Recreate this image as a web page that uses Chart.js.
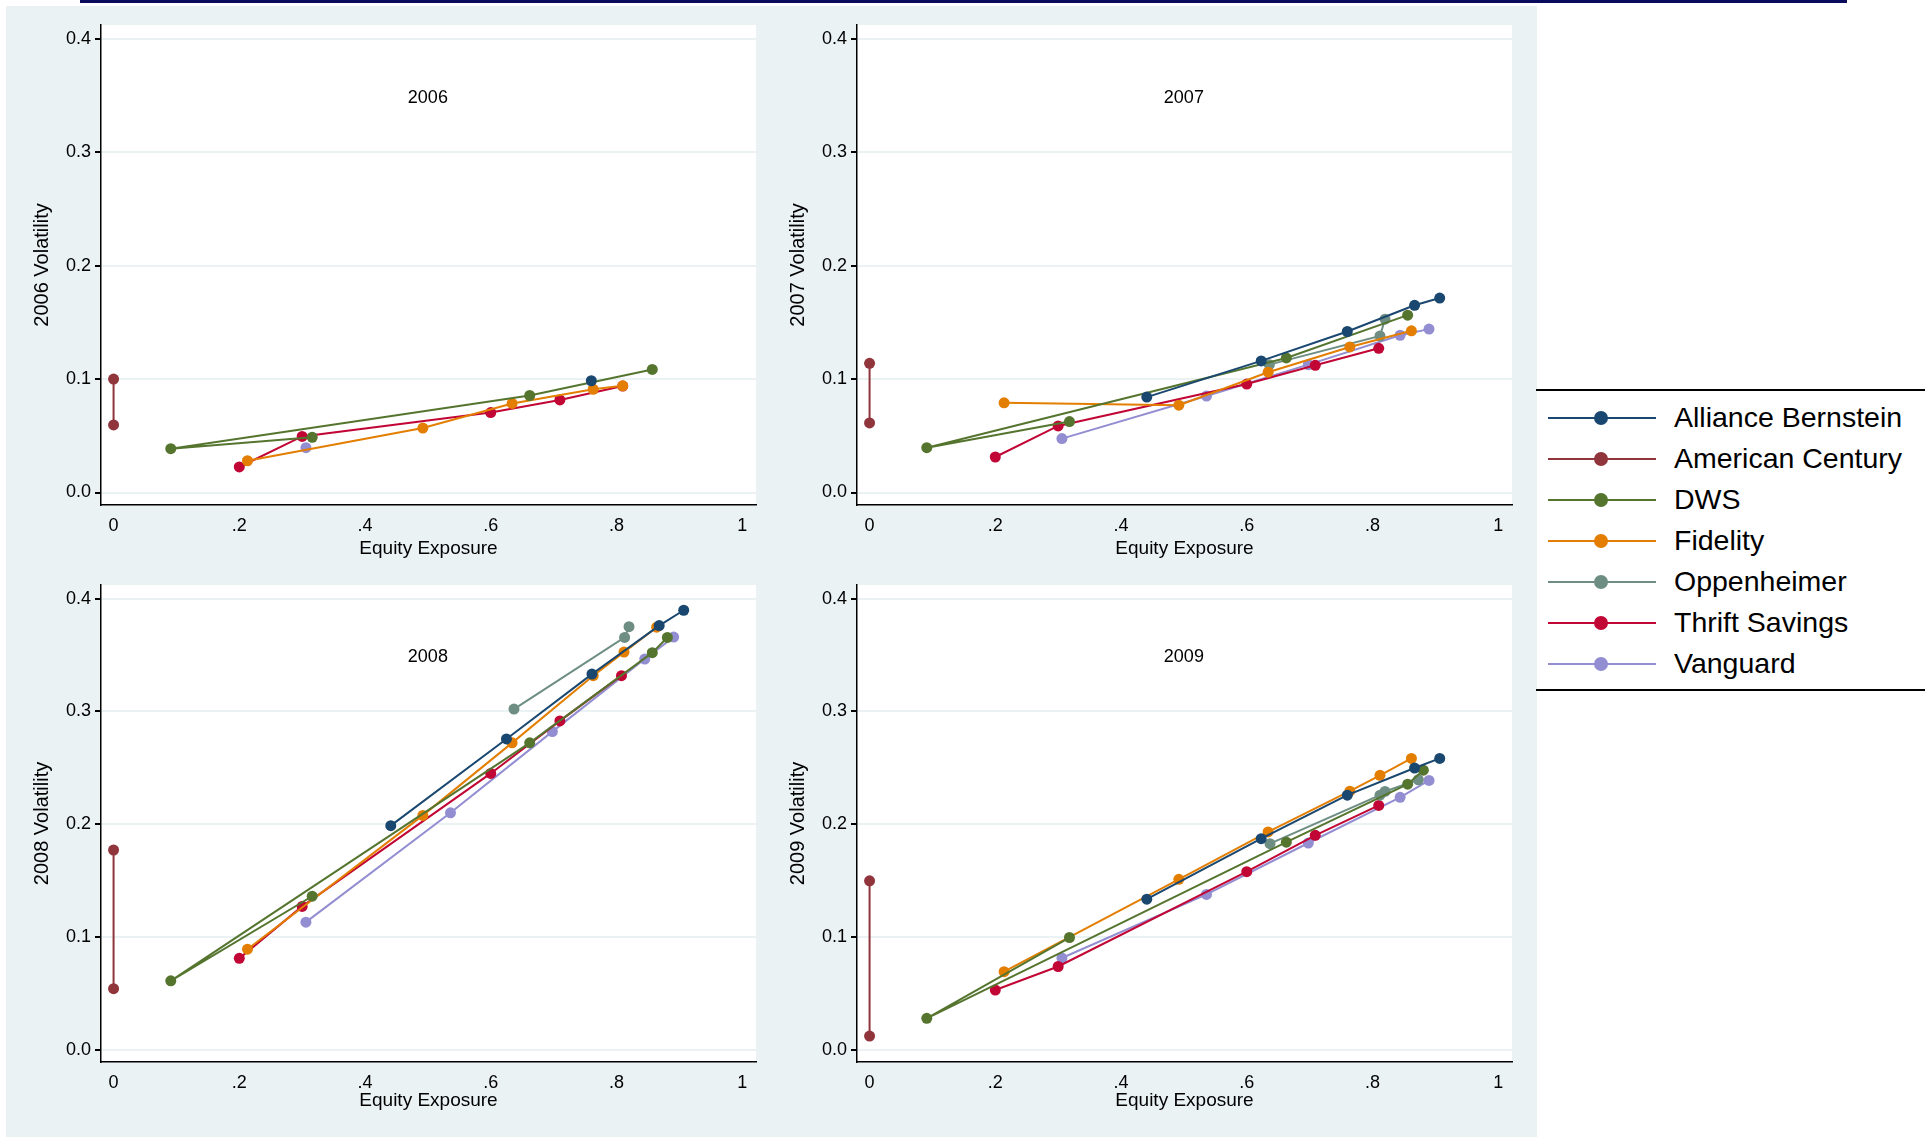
<!DOCTYPE html>
<html><head><meta charset="utf-8">
<script src="https://cdn.jsdelivr.net/npm/chart.js@4.4.0/dist/chart.umd.min.js"></script>
<style>
body{margin:0;width:1929px;height:1137px;background:#fff;position:relative;overflow:hidden;font-family:"Liberation Sans",Arial,sans-serif}
#bg{position:absolute;left:6px;top:6px;width:1531px;height:1131px;background:#eaf2f3}
#topline{position:absolute;left:80px;top:0;width:1767px;height:3px;background:#0b0b5e}
canvas{position:absolute}
#legend{position:absolute;left:1536px;top:389px;width:389px;height:298px;border-top:2px solid #000;border-bottom:2px solid #000}
.li{position:absolute;left:0;height:30px;width:389px}
.li .ln{position:absolute;left:12px;top:14px;width:108px;height:2px}
.li .dt{position:absolute;left:58px;top:8px;width:14px;height:14px;border-radius:50%}
.li .tx{position:absolute;left:138px;top:-1px;font-size:28.5px;line-height:30px;color:#000}
</style></head><body>
<div id="bg"></div><div id="topline"></div>
<canvas id="c2006"></canvas><canvas id="c2007"></canvas><canvas id="c2008"></canvas><canvas id="c2009"></canvas>
<div id="legend"></div>
<script>
const families = ["Alliance Bernstein","American Century","DWS","Fidelity","Oppenheimer","Thrift Savings","Vanguard"];
const colors = ["#1a476f","#90353b","#55752f","#e37e00","#6e8e84","#c10534","#938dd2"];
const years = ["2006","2007","2008","2009"];
const xTicks = [0,0.2,0.4,0.6,0.8,1];
const yTicks = [0,0.1,0.2,0.3,0.4];

const AB_2006 = [[0.76,0.0985]];
const AC_2006 = [[0,0.1],[0,0.0596]];
const DWS_2006 = [[0.316,0.0487],[0.091,0.0386],[0.662,0.0855],[0.857,0.1085]];
const FID_2006 = [[0.213,0.028],[0.492,0.0568],[0.634,0.0785],[0.763,0.091],[0.81,0.094]];
const OPP_2006 = [];
const TSP_2006 = [[0.2,0.0225],[0.3,0.0494],[0.6,0.0705],[0.71,0.0816],[0.81,0.0938]];
const VAN_2006 = [[0.306,0.0395]];

const AB_2007 = [[0.441,0.0841],[0.623,0.116],[0.76,0.1419],[0.867,0.165],[0.907,0.1714]];
const AC_2007 = [[0,0.1139],[0,0.0613]];
const DWS_2007 = [[0.318,0.0625],[0.091,0.0395],[0.663,0.1186],[0.856,0.1563]];
const FID_2007 = [[0.214,0.079],[0.492,0.077],[0.634,0.106],[0.764,0.1283],[0.862,0.1425]];
const OPP_2007 = [[0.636,0.1127],[0.812,0.138],[0.82,0.1528]];
const TSP_2007 = [[0.2,0.0313],[0.3,0.0587],[0.6,0.0956],[0.709,0.1121],[0.81,0.1271]];
const VAN_2007 = [[0.306,0.0475],[0.536,0.085],[0.698,0.1127],[0.844,0.1386],[0.89,0.144]];

const AB_2008 = [[0.441,0.1986],[0.625,0.2755],[0.761,0.333],[0.868,0.376],[0.907,0.3896]];
const AC_2008 = [[0,0.177],[0,0.054]];
const DWS_2008 = [[0.316,0.136],[0.091,0.061],[0.662,0.272],[0.857,0.352],[0.881,0.3655]];
const FID_2008 = [[0.213,0.089],[0.492,0.2077],[0.634,0.272],[0.763,0.3316],[0.812,0.3525],[0.864,0.3746]];
const OPP_2008 = [[0.637,0.302],[0.813,0.3655],[0.82,0.375]];
const TSP_2008 = [[0.2,0.0809],[0.3,0.127],[0.6,0.2449],[0.71,0.2915],[0.808,0.3316]];
const VAN_2008 = [[0.306,0.113],[0.536,0.21],[0.698,0.282],[0.845,0.3463],[0.891,0.3658]];

const AB_2009 = [[0.441,0.1334],[0.623,0.187],[0.76,0.2256],[0.867,0.2497],[0.907,0.2582]];
const AC_2009 = [[0,0.1497],[0,0.012]];
const DWS_2009 = [[0.318,0.0994],[0.091,0.0277],[0.663,0.1839],[0.856,0.2354],[0.881,0.2478]];
const FID_2009 = [[0.214,0.0691],[0.492,0.151],[0.634,0.193],[0.764,0.2292],[0.812,0.2432],[0.862,0.2582]];
const OPP_2009 = [[0.637,0.1826],[0.812,0.2256],[0.82,0.2289],[0.873,0.2393]];
const TSP_2009 = [[0.2,0.0528],[0.3,0.0737],[0.6,0.1578],[0.709,0.19],[0.81,0.2165]];
const VAN_2009 = [[0.306,0.0812],[0.536,0.1376],[0.698,0.1832],[0.844,0.2237],[0.89,0.2387]];

const byYear = {
  "2006":[AB_2006,AC_2006,DWS_2006,FID_2006,OPP_2006,TSP_2006,VAN_2006],
  "2007":[AB_2007,AC_2007,DWS_2007,FID_2007,OPP_2007,TSP_2007,VAN_2007],
  "2008":[AB_2008,AC_2008,DWS_2008,FID_2008,OPP_2008,TSP_2008,VAN_2008],
  "2009":[AB_2009,AC_2009,DWS_2009,FID_2009,OPP_2009,TSP_2009,VAN_2009]
};

const place = {
  "2006":{left:8,top:8,areaL:101,areaR:756,areaT:25,areaB:505},
  "2007":{left:764,top:8,areaL:857,areaR:1512,areaT:25,areaB:505},
  "2008":{left:8,top:560,areaL:101,areaR:756,areaT:585,areaB:1062},
  "2009":{left:764,top:560,areaL:857,areaR:1512,areaT:585,areaB:1062}
};

const bgPlugin = {id:'bgp',beforeDraw(ch){const a=ch.chartArea,c=ch.ctx;c.save();c.fillStyle='#eaf2f3';c.fillRect(0,0,ch.width,ch.height);c.fillStyle='#fff';c.fillRect(a.left,a.top,a.right-a.left,a.bottom-a.top);c.restore();}};
const titlePlugin = {id:'ttl',afterDraw(ch,args,opts){const c=ch.ctx;c.save();c.fillStyle='#000';c.font='18px "Liberation Sans", Arial';c.textAlign='center';c.textBaseline='middle';c.fillText(opts.text,ch.scales.x.getPixelForValue(0.5),ch.scales.y.getPixelForValue(0.348));c.restore();}};

years.forEach(yr=>{
  const p = place[yr];
  const W = 770, H = 552;
  const cv = document.getElementById('c'+yr);
  cv.style.left=p.left+'px'; cv.style.top=p.top+'px';
  cv.style.width=W+'px'; cv.style.height=H+'px'; cv.width=W; cv.height=H;
  const ds = byYear[yr].map((pts,i)=>({
    label:families[i], data:pts.map(q=>({x:q[0],y:q[1]})), showLine:true,
    borderColor:colors[i], backgroundColor:colors[i], borderWidth:2,
    pointRadius:5.5, pointHoverRadius:5.5, pointBorderWidth:0
  }));
  new Chart(cv,{type:'scatter',data:{datasets:ds},plugins:[bgPlugin,titlePlugin],
    options:{responsive:false,animation:false,devicePixelRatio:1,
      layout:{padding:{top:p.areaT-p.top,right:(p.left+W)-p.areaR,left:0,bottom:0}},
      plugins:{legend:{display:false},tooltip:{enabled:false},ttl:{text:yr}},
      scales:{
        x:{type:'linear',min:-0.02,max:1.022,
          afterBuildTicks(s){s.ticks=xTicks.map(v=>({value:v}));},
          afterFit(s){s.height=(p.top+H)-p.areaB;},
          ticks:{color:'#000',font:{size:18,family:'"Liberation Sans", Arial'},padding:4,maxRotation:0,
            callback:v=>v===0?'0':(v===1?'1':String(v).replace(/^0/,''))},
          grid:{display:false,drawTicks:true,tickLength:6,tickColor:'#000'},
          border:{color:'#000',width:1.5},
          title:{display:true,text:'Equity Exposure',color:'#000',font:{size:19,family:'"Liberation Sans", Arial'},padding:0}},
        y:{type:'linear',min:-0.011,max:0.412,
          afterBuildTicks(s){s.ticks=yTicks.map(v=>({value:v}));},
          afterFit(s){s.width=p.areaL-p.left;},
          ticks:{color:'#000',font:{size:18,family:'"Liberation Sans", Arial'},padding:4,callback:v=>v.toFixed(1)},
          grid:{color:'#eaf2f3',lineWidth:2,drawTicks:true,tickLength:6,tickColor:'#000'},
          border:{color:'#000',width:1.5},
          title:{display:true,text:yr+' Volatility',color:'#000',font:{size:20,family:'"Liberation Sans", Arial'},padding:{top:22,bottom:0}}}
      }}});
});

const lg = document.getElementById('legend');
families.forEach((f,i)=>{
  const d=document.createElement('div');d.className='li';d.style.top=(12+i*41)+'px';
  d.innerHTML='<div class="ln" style="background:'+colors[i]+'"></div><div class="dt" style="background:'+colors[i]+'"></div><div class="tx">'+f+'</div>';
  lg.appendChild(d);
});
</script></body></html>
